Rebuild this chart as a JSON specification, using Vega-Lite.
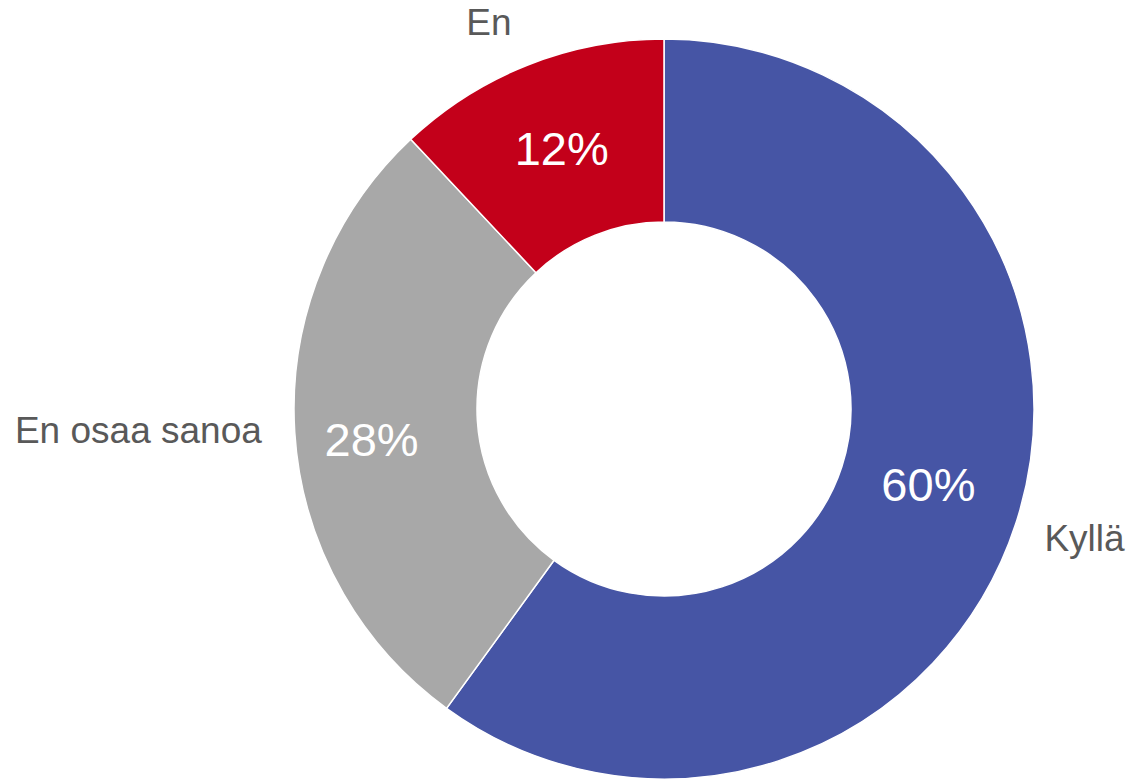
{
  "$schema": "https://vega.github.io/schema/vega-lite/v6.json",
  "width": 740,
  "height": 740,
  "autosize": {"type": "none"},
  "padding": {"left": 294, "top": 39, "right": 96, "bottom": 1},
  "background": "white",
  "view": {"stroke": null},
  "config": {"text": {"font": "Liberation Sans"}},
  "data": {
    "values": [
      {"cat": "Kyllä", "value": 60, "order": 1, "pct": "60%"},
      {"cat": "En osaa sanoa", "value": 28, "order": 2, "pct": "28%"},
      {"cat": "En", "value": 12, "order": 3, "pct": "12%"}
    ]
  },
  "encoding": {
    "theta": {"field": "value", "type": "quantitative", "stack": true},
    "order": {"field": "order", "type": "quantitative"},
    "detail": {"field": "cat", "type": "nominal"}
  },
  "layer": [
    {
      "mark": {"type": "arc", "outerRadius": 370, "innerRadius": 187, "stroke": "white", "strokeWidth": 1.5},
      "encoding": {
        "color": {
          "field": "cat",
          "type": "nominal",
          "scale": {"domain": ["Kyllä", "En osaa sanoa", "En"], "range": ["#4655A5", "#A8A8A8", "#C3001A"]},
          "legend": null
        }
      }
    },
    {
      "mark": {"type": "text", "radius": 278, "dy": -8, "fontSize": 47, "color": "white", "align": "center", "baseline": "middle"},
      "encoding": {"text": {"condition": {"test": "datum.cat === 'Kyllä'", "field": "pct"}, "value": ""}}
    },
    {
      "mark": {"type": "text", "radius": 293, "dy": 15, "fontSize": 47, "color": "white", "align": "center", "baseline": "middle"},
      "encoding": {"text": {"condition": {"test": "datum.cat === 'En osaa sanoa'", "field": "pct"}, "value": ""}}
    },
    {
      "mark": {"type": "text", "radius": 278, "fontSize": 47, "color": "white", "align": "center", "baseline": "middle"},
      "encoding": {"text": {"condition": {"test": "datum.cat === 'En'", "field": "pct"}, "value": ""}}
    },
    {
      "mark": {"type": "text", "radius": 400, "dy": 7, "fontSize": 37, "color": "#595959", "align": "left", "baseline": "middle"},
      "encoding": {"text": {"condition": {"test": "datum.cat === 'Kyllä'", "field": "cat"}, "value": ""}}
    },
    {
      "mark": {"type": "text", "radius": 403, "dy": -2, "fontSize": 37, "color": "#595959", "align": "right", "baseline": "middle"},
      "encoding": {"text": {"condition": {"test": "datum.cat === 'En osaa sanoa'", "field": "cat"}, "value": ""}}
    },
    {
      "mark": {"type": "text", "radius": 414, "fontSize": 37, "color": "#595959", "align": "right", "baseline": "middle"},
      "encoding": {"text": {"condition": {"test": "datum.cat === 'En'", "field": "cat"}, "value": ""}}
    }
  ]
}
